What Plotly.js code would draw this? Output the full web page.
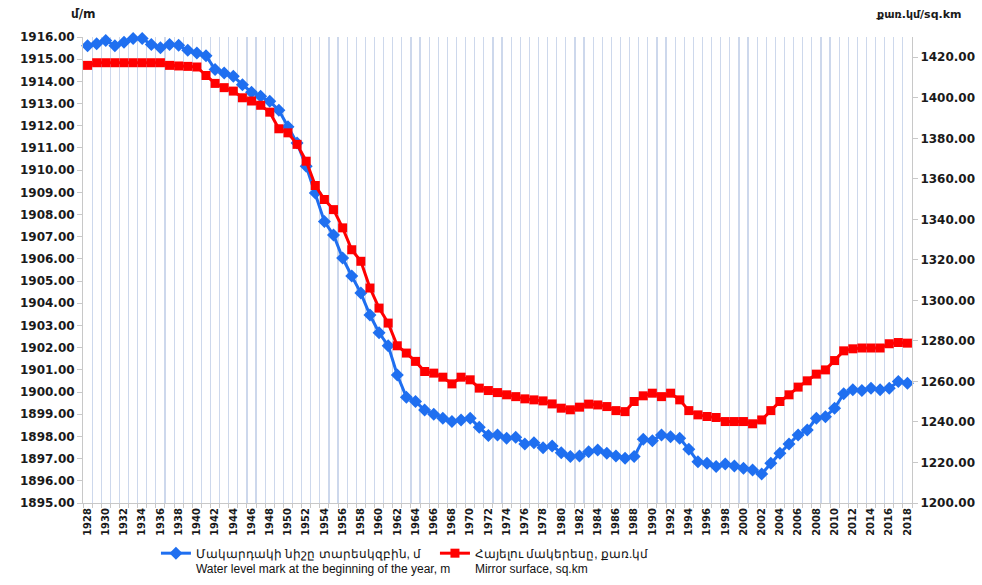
<!DOCTYPE html>
<html>
<head>
<meta charset="utf-8">
<script src="https://cdn.plot.ly/plotly-3.0.1.min.js"></script>
<style>html,body{margin:0;padding:0;background:#fff;}#chart{width:982px;height:585px;}</style>
</head>
<body>
<div id="chart"></div>
<script>
const years = [];
for (let y = 1928; y <= 2018; y++) years.push(y);

const waterLevel = [
  1915.61, 1915.70, 1915.84, 1915.61, 1915.76, 1915.93, 1915.93, 1915.66, 1915.51, 1915.66,
  1915.63, 1915.40, 1915.28, 1915.16, 1914.53, 1914.38, 1914.23, 1913.85, 1913.51, 1913.33,
  1913.10, 1912.70, 1911.95, 1911.22, 1910.17, 1908.97, 1907.68, 1907.08, 1906.04, 1905.23,
  1904.46, 1903.47, 1902.67, 1902.09, 1900.77, 1899.77, 1899.57, 1899.19, 1899.00, 1898.82,
  1898.67, 1898.74, 1898.82, 1898.41, 1898.04, 1898.07, 1897.92, 1897.96, 1897.66, 1897.72,
  1897.49, 1897.57, 1897.27, 1897.09, 1897.12, 1897.31, 1897.39, 1897.24, 1897.12, 1897.02,
  1897.09, 1897.87, 1897.81, 1898.07, 1897.99, 1897.92, 1897.42, 1896.86, 1896.79, 1896.64,
  1896.76, 1896.67, 1896.57, 1896.49, 1896.31, 1896.79, 1897.24, 1897.66, 1898.07, 1898.29,
  1898.82, 1898.89, 1899.27, 1899.92, 1900.10, 1900.07, 1900.17, 1900.10, 1900.17, 1900.47,
  1900.40
];

const mirrorSurface = [
  1416.0, 1417.3, 1417.3, 1417.3, 1417.3, 1417.3, 1417.3, 1417.3, 1417.3, 1416.0,
  1415.7, 1415.5, 1415.2, 1411.0, 1407.1, 1405.0, 1403.3, 1400.0, 1398.4, 1396.3,
  1392.9, 1384.7, 1382.7, 1377.0, 1368.7, 1356.7, 1349.8, 1344.8, 1335.8, 1325.0,
  1319.3, 1306.1, 1296.2, 1288.8, 1277.6, 1274.0, 1269.9, 1264.9, 1264.1, 1262.1,
  1258.8, 1262.1, 1260.8, 1256.7, 1255.5, 1254.5, 1253.4, 1252.5, 1251.4, 1250.9,
  1250.4, 1248.9, 1246.8, 1246.0, 1247.3, 1248.8, 1248.4, 1247.6, 1245.6, 1245.1,
  1250.1, 1252.9, 1254.2, 1252.5, 1254.2, 1250.9, 1245.6, 1243.5, 1242.7, 1242.2,
  1240.2, 1240.2, 1240.2, 1239.1, 1241.0, 1245.6, 1250.1, 1253.4, 1257.2, 1260.3,
  1263.6, 1265.7, 1270.3, 1275.1, 1276.1, 1276.5, 1276.5, 1276.5, 1278.6, 1279.2,
  1278.9
];

const waterName = "Մակարդակի նիշը տարեսկզբին, մ<br>Water level mark at the beginning of the year, m";
const mirrorName = "Հայելու մակերեսը, քառ.կմ<br>Mirror surface, sq.km";
const leftUnit = "մ/m";
const rightUnit = "քառ.կմ/sq.km";

const tickFont = {family: "DejaVu Sans", size: 12, color: "#1a1a1a", weight: "bold"};

const traces = [
  {
    x: years, y: waterLevel, name: waterName, type: "scatter", mode: "lines+markers",
    line: {color: "#1f6ff0", width: 3},
    marker: {symbol: "diamond", size: 10, color: "#1f6ff0"},
    cliponaxis: false,
    yaxis: "y"
  },
  {
    x: years, y: mirrorSurface, name: mirrorName, type: "scatter", mode: "lines+markers",
    line: {color: "#ff0000", width: 3},
    marker: {symbol: "square", size: 9, color: "#ff0000"},
    cliponaxis: false,
    yaxis: "y2"
  }
];

const layout = {
  width: 982, height: 585,
  margin: {l: 83, r: 70, t: 37, b: 82, autoexpand: false},
  paper_bgcolor: "#ffffff", plot_bgcolor: "#ffffff",
  showlegend: true,
  legend: {
    orientation: "h", x: 0.088, xanchor: "left", y: -0.077, yanchor: "top",
    font: {family: "Liberation Sans, sans-serif", size: 12, color: "#111"},
    valign: "top", entrywidth: 234, itemwidth: 30, tracegroupgap: 0
  },
  xaxis: {
    range: [1927.5, 2018.5],
    tickmode: "linear", tick0: 1928, dtick: 2,
    tickangle: -90,
    tickfont: {family: "DejaVu Sans", size: 10, color: "#1a1a1a", weight: "bold"},
    showgrid: false, zeroline: false,
    showline: true, linecolor: "#c8c8c8", linewidth: 1,
    ticks: "",
    minor: {tick0: 1927.5, dtick: 1, showgrid: true, gridcolor: "#cdd8ec", gridwidth: 1.2, ticks: "outside", ticklen: 4, tickcolor: "#c8c8c8"}
  },
  yaxis: {
    range: [1895, 1916], tickmode: "linear", tick0: 1895, dtick: 1,
    tickformat: ".2f", tickfont: tickFont,
    showgrid: false, zeroline: false,
    showline: true, linecolor: "#c8c8c8", linewidth: 1,
    ticks: "outside", ticklen: 5, tickcolor: "#c8c8c8"
  },
  yaxis2: {
    range: [1200, 1430], tickmode: "linear", tick0: 1200, dtick: 20,
    tickformat: ".2f", tickfont: tickFont,
    overlaying: "y", side: "right",
    showgrid: false, zeroline: false,
    showline: true, linecolor: "#c8c8c8", linewidth: 1,
    ticks: "outside", ticklen: 5, tickcolor: "#c8c8c8"
  },
  annotations: [
    {text: leftUnit, xref: "paper", yref: "paper", x: 0.0, y: 1.0, yshift: 23, xanchor: "center", yanchor: "middle", showarrow: false,
     font: {family: "DejaVu Sans", size: 12, color: "#1a1a1a", weight: "bold"}},
    {text: rightUnit, xref: "paper", yref: "paper", x: 1.0615, y: 1.0, yshift: 23, xanchor: "right", yanchor: "middle", showarrow: false,
     font: {family: "DejaVu Sans", size: 11, color: "#1a1a1a", weight: "bold"}}
  ]
};

Plotly.newPlot("chart", traces, layout, {displayModeBar: false, staticPlot: true});
</script>
</body>
</html>
